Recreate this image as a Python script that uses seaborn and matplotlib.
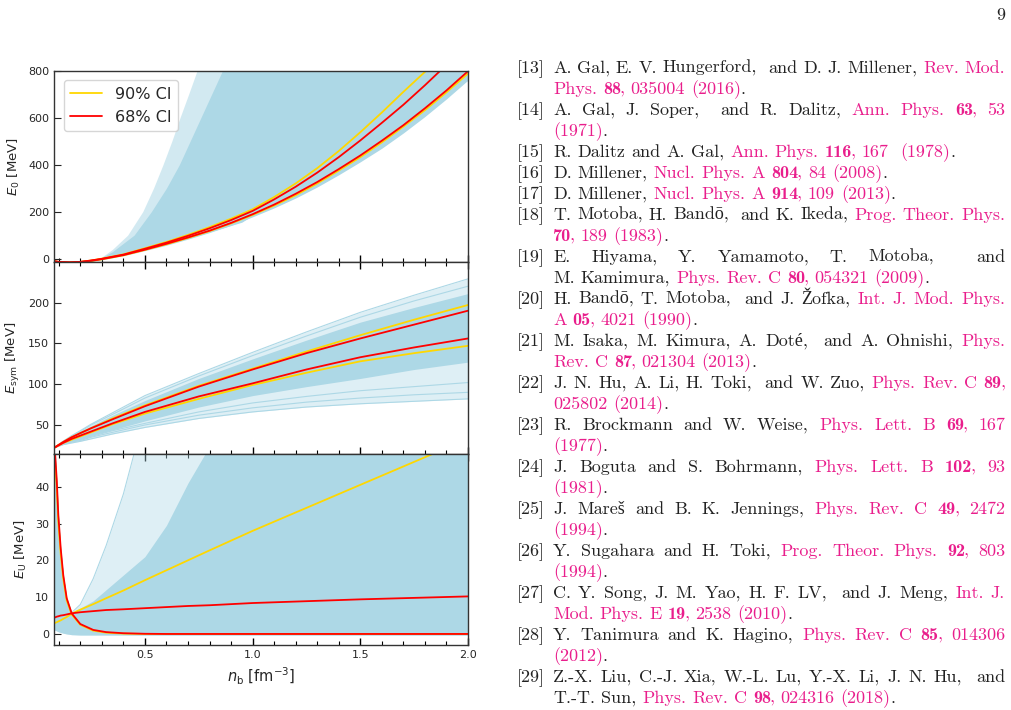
import matplotlib
matplotlib.use("Agg")
import matplotlib.pyplot as plt
import seaborn as sns
from matplotlib.ticker import MultipleLocator

# ---------------- chart data ----------------
# E0 panel
e0_n = [0.078, 0.1, 0.15, 0.2, 0.25, 0.3, 0.4, 0.5, 0.6, 0.7, 0.8, 0.9, 1.0,
        1.1, 1.2, 1.3, 1.4, 1.5, 1.6, 1.7, 1.8, 1.9, 2.0]
e0_red_lo = [-11, -14, -16, -14, -9, -2, 15, 38, 63, 90, 119, 152, 189,
             230, 276, 326, 381, 439, 502, 568, 640, 716, 798]
e0_red_hi = [-11, -14, -16, -14, -8, -1, 17, 42, 68, 97, 129, 164, 203,
             252, 306, 366, 432, 503, 578, 655, 738, 825, 915]
e0_gold_lo = [-12, -15, -17, -15, -10, -3, 14, 37, 61, 88, 117, 150, 186,
              226, 270, 320, 375, 432, 495, 562, 632, 708, 788]
e0_gold_hi = [-11, -14, -16, -14, -8, 0, 18, 44, 71, 101, 134, 170, 210,
              262, 320, 385, 458, 538, 622, 710, 795, 885, 975]
e0_band_lo = [-13, -16, -18, -16, -11, -4, 12, 34, 57, 83, 111, 142, 178,
              216, 258, 305, 357, 412, 470, 535, 605, 680, 760]

# outermost (sparse) edge of the curve bundle
e0_edge_n = [0.078, 0.1, 0.15, 0.2, 0.25, 0.29, 0.35, 0.42, 0.49, 0.54, 0.584,
             0.625, 0.663, 0.703, 0.742, 0.78, 0.9, 2.0]
e0_edge_hi = [-11, -13, -15, -12, -6, 0, 40, 100, 200, 300, 400,
              500, 600, 700, 800, 900, 1100, 1100]
e0_edge_lo = [-13, -16, -18, -16, -11, -6, 4, 22, 44, 59, 73,
              86, 99, 113, 127, 139, 180, 760]
# dense part of the bundle
e0_dense_n = [0.078, 0.2, 0.29, 0.35, 0.45, 0.53, 0.6, 0.66, 0.71, 0.76, 0.81, 0.86, 0.95, 2.0]
e0_dense_hi = [-11, -12, 0, 30, 100, 200, 300, 400, 500, 600, 700, 800, 1000, 1100]
e0_dense_lo = [-13, -16, -6, 4, 28, 49, 63, 77, 89, 102, 116, 130, 155, 760]

# Esym panel
es_n = [0.078, 0.12, 0.16, 0.2, 0.25, 0.35, 0.5, 0.75, 1.0, 1.25, 1.5, 1.75, 2.0]
es_gold_hi = [22, 29, 35, 40, 46, 58, 74, 98, 119, 140, 160, 179, 197]
es_red_hi = [22, 29, 35, 40, 46, 57, 73, 97, 118, 138, 156, 173, 190]
es_red_lo = [22, 28, 33, 37, 42, 52, 66, 85, 101, 118, 133, 145, 156]
es_gold_lo = [22, 28, 32, 36, 41, 51, 64, 82, 99, 114, 128, 138, 147]
es_band_hi = [22, 30, 36, 42, 49, 62, 80, 107, 131, 154, 176, 194, 211]
es_band_lo = [22, 27, 30, 33, 37, 44, 55, 72, 86, 97, 107, 118, 127]
es_outer_hi = [22, 30, 37, 43, 51, 65, 86, 113, 139, 164, 188, 209, 229]
es_outer_lo = [22, 26, 28, 30, 33, 39, 47, 58, 66, 72, 76, 79, 82]
es_scatter_a = [22, 26, 29, 31, 35, 41, 50, 62, 71, 78, 83, 87, 90]
es_scatter_b = [22, 27, 30, 32, 36, 43, 52, 66, 77, 85, 92, 97, 102]
es_scatter_c = [22, 30, 36, 42, 50, 63, 83, 110, 135, 159, 182, 202, 220]

# EU panel
eu_n = [0.078, 0.083, 0.091, 0.098, 0.109, 0.121, 0.137, 0.16, 0.2, 0.26, 0.32,
        0.4, 0.5, 0.6, 0.7, 0.8, 1.0, 1.5, 2.0]
eu_red_lo = [57, 49.2, 41.5, 32.4, 23.3, 16.0, 9.7, 5.6, 2.7, 1.1, 0.5,
             0.2, 0.05, 0, 0, 0, 0, 0, 0]
eu_gold_lo = [55, 47.0, 39.5, 30.5, 21.8, 15.0, 9.1, 5.3, 2.5, 0.9, 0.35,
              0.1, 0, 0, 0, 0, 0, 0, 0]
eu_red_hi = [4.4, 4.5, 4.7, 4.8, 5.0, 5.1, 5.3, 5.6, 5.9, 6.2, 6.5,
             6.7, 7.0, 7.3, 7.6, 7.8, 8.4, 9.4, 10.2]
eu_gold_hi = [2.9, 3.0, 3.2, 3.4, 3.7, 4.1, 4.6, 5.5, 6.6, 8.1, 9.7,
              11.8, 14.6, 17.3, 20.0, 22.7, 28.0, 40.5, 53.0]
eu_band_lo = [1.1, 1.0, 0.8, 0.6, 0.4, 0.2, 0.0, -0.2, -0.3, -0.3, -0.3,
              -0.3, -0.3, -0.3, -0.3, -0.3, -0.3, -0.3, -0.3]
eu_band_hi = [57, 49.2, 41.5, 32.4, 23.3, 16.0, 9.7, 5.8, 7.0, 9.0, 12.0,
              16.0, 21.0, 29.5, 41.0, 51.0, 60, 60, 60]
eu_outer_hi = [57, 49.2, 41.5, 32.4, 23.3, 16.0, 9.7, 5.8, 8.0, 15.0, 24.0,
               38.0, 60.0, 60, 60, 60, 60, 60, 60]

ci_labels = ["90% CI", "68% CI"]

# ---------------- reference list (right column) ----------------
# '~' toggles link colour, '*' toggles bold
ref_labels = ["[13]", None, "[14]", None, "[15]", "[16]", "[17]", "[18]", None, "[19]", None,
              "[20]", None, "[21]", None, "[22]", None, "[23]", None, "[24]", None, "[25]", None,
              "[26]", None, "[27]", None, "[28]", None, "[29]", None]
ref_texts = [
    "A. Gal, E. V. Hungerford,  and D. J. Millener, ~Rev. Mod.",
    "Phys. *88*, 035004 (2016)~.",
    "A. Gal, J. Soper,  and R. Dalitz, ~Ann. Phys. *63*, 53",
    "(1971)~.",
    "R. Dalitz and A. Gal, ~Ann. Phys. *116*, 167  (1978)~.",
    "D. Millener, ~Nucl. Phys. A *804*, 84 (2008)~.",
    "D. Millener, ~Nucl. Phys. A *914*, 109 (2013)~.",
    "T. Motoba, H. Bandō,  and K. Ikeda, ~Prog. Theor. Phys.",
    "*70*, 189 (1983)~.",
    "E. Hiyama, Y. Yamamoto, T. Motoba,  and",
    "M. Kamimura, ~Phys. Rev. C *80*, 054321 (2009)~.",
    "H. Bandō, T. Motoba,  and J. Žofka, ~Int. J. Mod. Phys.",
    "A *05*, 4021 (1990)~.",
    "M. Isaka, M. Kimura, A. Doté,  and A. Ohnishi, ~Phys.",
    "Rev. C *87*, 021304 (2013)~.",
    "J. N. Hu, A. Li, H. Toki,  and W. Zuo, ~Phys. Rev. C *89*,",
    "025802 (2014)~.",
    "R. Brockmann and W. Weise, ~Phys. Lett. B *69*, 167",
    "(1977)~.",
    "J. Boguta and S. Bohrmann, ~Phys. Lett. B *102*, 93",
    "(1981)~.",
    "J. Mareš and B. K. Jennings, ~Phys. Rev. C *49*, 2472",
    "(1994)~.",
    "Y. Sugahara and H. Toki, ~Prog. Theor. Phys. *92*, 803",
    "(1994)~.",
    "C. Y. Song, J. M. Yao, H. F. LV,  and J. Meng, ~Int. J.",
    "Mod. Phys. E *19*, 2538 (2010)~.",
    "Y. Tanimura and K. Hagino, ~Phys. Rev. C *85*, 014306",
    "(2012)~.",
    "Z.-X. Liu, C.-J. Xia, W.-L. Lu, Y.-X. Li, J. N. Hu,  and",
    "T.-T. Sun, ~Phys. Rev. C *98*, 024316 (2018)~.",
]
ref_justified = [True, False, True, False, False, False, False, True, False, True, False,
                 True, False, True, False, True, False, True, False, True, False, True, False,
                 True, False, True, False, True, False, True, False]

# ---------------- figure ----------------
sns.set_style("ticks")
plt.rcParams["font.family"] = ["DejaVu Sans"]
plt.rcParams["mathtext.fontset"] = "dejavusans"

W, H = 1012, 710
fig = plt.figure(figsize=(W / 100, H / 100), dpi=100)

gs = fig.add_gridspec(3, 1, left=54 / W, right=468 / W, top=1 - 70.7 / H,
                      bottom=1 - 645 / H, hspace=0)
ax0 = fig.add_subplot(gs[0])
ax1 = fig.add_subplot(gs[1], sharex=ax0)
ax2 = fig.add_subplot(gs[2], sharex=ax0)

band = "lightblue"
lw = 1.3

# E0
ax0.fill_between(e0_edge_n, e0_edge_lo, e0_edge_hi, color=band, lw=0, alpha=0.55)
ax0.fill_between(e0_dense_n, e0_dense_lo, e0_dense_hi, color=band, lw=0)
ax0.fill_between(e0_n, e0_band_lo, e0_red_hi, color=band, lw=0)
sns.lineplot(x=e0_n, y=e0_gold_lo, color="gold", lw=lw, ax=ax0)
sns.lineplot(x=e0_n, y=e0_gold_hi, color="gold", lw=lw, ax=ax0, label=ci_labels[0])
sns.lineplot(x=e0_n, y=e0_red_lo, color="red", lw=lw, ax=ax0)
sns.lineplot(x=e0_n, y=e0_red_hi, color="red", lw=lw, ax=ax0, label=ci_labels[1])
ax0.set_ylim(-15, 800)
ax0.set_yticks([0, 200, 400, 600, 800])
ax0.set_ylabel(r"$E_0$ [MeV]", fontsize=9.5)
ax0.legend(loc="upper left", fontsize=11.5, frameon=True, borderaxespad=0.6)

# Esym
ax1.fill_between(es_n, es_outer_lo, es_outer_hi, color=band, lw=0, alpha=0.4)
ax1.fill_between(es_n, es_band_lo, es_band_hi, color=band, lw=0)
for arr in (es_outer_hi, es_outer_lo, es_scatter_a, es_scatter_b, es_scatter_c):
    sns.lineplot(x=es_n, y=arr, color=band, lw=0.8, ax=ax1)
sns.lineplot(x=es_n, y=es_gold_hi, color="gold", lw=lw, ax=ax1)
sns.lineplot(x=es_n, y=es_gold_lo, color="gold", lw=lw, ax=ax1)
sns.lineplot(x=es_n, y=es_red_hi, color="red", lw=lw, ax=ax1)
sns.lineplot(x=es_n, y=es_red_lo, color="red", lw=lw, ax=ax1)
ax1.set_ylim(15, 249.5)
ax1.set_yticks([50, 100, 150, 200])
ax1.set_ylabel(r"$E_\mathrm{sym}$ [MeV]", fontsize=9.5)

# EU
ax2.fill_between(eu_n, eu_band_lo, eu_outer_hi, color=band, lw=0, alpha=0.4)
ax2.fill_between(eu_n, eu_band_lo, eu_band_hi, color=band, lw=0)
sns.lineplot(x=eu_n, y=eu_outer_hi, color=band, lw=0.8, ax=ax2)
sns.lineplot(x=eu_n, y=eu_gold_hi, color="gold", lw=lw, ax=ax2)
sns.lineplot(x=eu_n, y=eu_gold_lo, color="gold", lw=lw, ax=ax2)
sns.lineplot(x=eu_n, y=eu_red_hi, color="red", lw=lw, ax=ax2)
sns.lineplot(x=eu_n, y=eu_red_lo, color="red", lw=lw, ax=ax2)
ax2.set_ylim(-3, 49)
ax2.set_yticks([0, 10, 20, 30, 40])
ax2.set_ylabel(r"$E_\mathrm{U}$ [MeV]", fontsize=9.5)
ax2.set_xlabel(r"$n_\mathrm{b}$ [fm$^{-3}$]", fontsize=10.5)

for ax in (ax0, ax1, ax2):
    ax.set_xlim(0.078, 2.0)
    ax.xaxis.set_major_locator(MultipleLocator(0.5))
    ax.xaxis.set_minor_locator(MultipleLocator(0.1))
    ax.tick_params(axis="x", which="both", direction="in", top=(ax is not ax0), bottom=True)
    ax.tick_params(axis="x", which="major", length=5, width=1, color="black")
    ax.tick_params(axis="x", which="minor", length=3, width=0.8, color="black")
    ax.tick_params(axis="y", direction="in", length=5, left=True, right=False)
    ax.tick_params(labelsize=8, labelcolor="#262626")
    for s in ax.spines.values():
        s.set_visible(True)
        s.set_color("#333333")
        s.set_linewidth(1.0)
for ax in (ax0, ax1):
    ax.tick_params(axis="x", labelbottom=False)
ax2.set_xticks([0.5, 1.0, 1.5, 2.0])
ax2.set_xticklabels(["0.5", "1.0", "1.5", "2.0"])

# ---------------- right column text ----------------
fs = 13.0
serif = ["cmr10", "Liberation Serif"]
serif_bold = ["cmb10", "Liberation Serif"]
fig.text(1005 / W, 1 - 20.5 / H, "9", ha="right", va="baseline",
         fontsize=fs, family=serif, color="#222222")

renderer = fig.canvas.get_renderer()
space_w = 0.333 * fs * 100 / 72
black = "#222222"
pink = "#e91e8c"
label_x, text_x, right_x = 517, 553, 1005
base_y0, line_h = 72.7, 21.0


def parse_words(line, state):
    words, gaps, cur, buf = [], [], [], ""
    nsp = 0
    for ch in line + " ":
        if ch in "~*":
            if buf:
                cur.append((buf, state["m"], state["b"]))
                buf = ""
            key = "m" if ch == "~" else "b"
            state[key] = not state[key]
        elif ch == " ":
            if buf:
                cur.append((buf, state["m"], state["b"]))
                buf = ""
            if cur:
                if words:
                    gaps.append(max(nsp, 1))
                words.append(cur)
                cur = []
                nsp = 0
            nsp += 1
        else:
            buf += ch
    return words, gaps


state = {"m": False, "b": False}
for i, (lab, txt, just) in enumerate(zip(ref_labels, ref_texts, ref_justified)):
    by = 1 - (base_y0 + i * line_h) / H
    if lab:
        fig.text(label_x / W, by, lab, ha="left", va="baseline", fontsize=fs,
                 family=serif, color=black)
    words, gaps = parse_words(txt, state)
    placed = []
    for w in words:
        pieces = []
        wsum = 0
        for t, m, b in w:
            tt = fig.text(0, by, t, ha="left", va="baseline", fontsize=fs,
                          family=serif_bold if b else serif, color=pink if m else black)
            pw = tt.get_window_extent(renderer).width
            if b:
                pw -= 1.5
            pieces.append((tt, pw))
            wsum += pw
        placed.append((pieces, wsum))
    total = sum(p[1] for p in placed)
    if just and len(placed) > 1:
        unit = (right_x - text_x - total) / sum(gaps)
    else:
        unit = space_w
    x = text_x
    for k, (pieces, wsum) in enumerate(placed):
        px = x
        for tt, pw in pieces:
            tt.set_position((px / W, by))
            px += pw
        x += wsum
        if k < len(gaps):
            x += unit * gaps[k]

fig.savefig("out.png", dpi=100)
